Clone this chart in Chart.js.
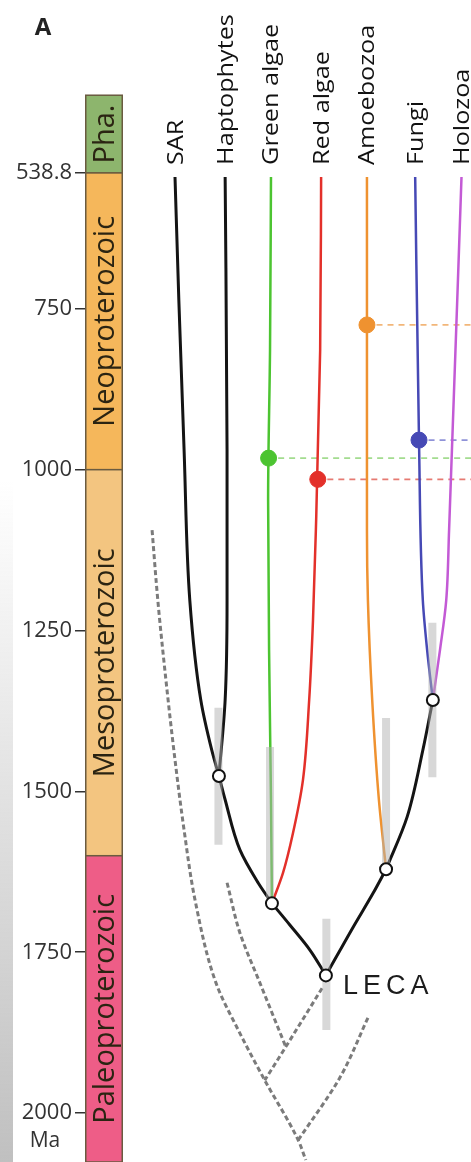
<!DOCTYPE html>
<html><head><meta charset="utf-8">
<script src="https://cdn.jsdelivr.net/npm/chart.js@4.4.1/dist/chart.umd.min.js"></script>
<style>html,body{margin:0;padding:0;background:#fff;overflow:hidden}#wrap{width:471px;height:1162px;position:relative}</style>
</head><body><div id="wrap"><canvas id="c" width="471" height="1162"></canvas></div>
<script>
// ---- data (x = lineage slot, y = age in Ma) ----
const taxa = ['SAR','Haptophytes','Green algae','Red algae','Amoebozoa','Fungi','Holozoa'];
const taxaSlot = [0, 1.05, 2.01, 3.06, 4.02, 5.03, 6.0];
const tipAge = 545;
const yTicks = [538.8, 750, 1000, 1250, 1500, 1750, 2000];
const periodNames = ['Pha.','Neoproterozoic','Mesoproterozoic','Paleoproterozoic'];
const periodBounds = [418, 538.8, 1000, 1600, 2076];

const sarPath    = [[0,545],[0.08,736],[0.19,969],[0.31,1203],[0.54,1358],[0.77,1436],[0.92,1476]];
const haptoPath  = [[1.05,545],[1.09,969],[1.09,1203],[1.05,1358],[0.92,1476]];
const greenPath  = [[2.01,545],[1.99,814],[1.95,1047],[1.97,1280],[2.01,1513],[2.03,1674]];
const redPath    = [[3.06,545],[3.04,814],[2.95,1094],[2.89,1234],[2.81,1358],[2.68,1482],[2.47,1565],[2.26,1627],[2.03,1674]];
const orangePath = [[4.02,545],[4.02,1094],[4.04,1203],[4.13,1358],[4.27,1513],[4.42,1621]];
const bluePath   = [[5.03,545],[5.11,954],[5.19,1203],[5.28,1280],[5.40,1358]];
const purplePath = [[6.0,545],[5.74,1094],[5.68,1203],[5.55,1280],[5.40,1358]];

const grToHapto   = [[0.92,1476],[1.05,1513],[1.36,1591],[1.74,1642],[2.03,1674]];
const lecaToGr    = [[2.03,1674],[2.41,1708],[2.83,1747],[3.16,1786]];
const lecaToAmoeb = [[4.42,1621],[4.15,1658],[3.73,1711],[3.16,1786]];
const amoebToFH   = [[5.40,1358],[5.19,1436],[4.86,1540],[4.42,1621]];

const stemLong  = [[-0.48,1094],[-0.36,1203],[-0.19,1327],[0,1451],[0.19,1560],[0.42,1669],[0.86,1798],[1.36,1876],[1.88,1949],[2.58,2042],[2.74,2073]];
const stemMid   = [[1.09,1642],[1.36,1720],[1.78,1798],[2.32,1897]];
const stemLeca  = [[3.08,1806],[2.32,1897],[1.88,1949]];
const stemRight = [[4.04,1852],[3.46,1944],[2.58,2042]];

const nodes = [[0.92,1476],[2.03,1674],[4.42,1621],[5.40,1358],[3.16,1786]];
const leca = [3.16,1786];
// fossil calibration dots: [slot, age]
const fossilOrange = [4.02,775];
const fossilBlue   = [5.11,954];
const fossilGreen  = [1.96,982];
const fossilRed    = [2.99,1015];
// node age ranges: [slot, youngest, oldest]
const ranges = [[0.91,1370,1583],[1.99,1431,1680],[4.42,1386,1621],[5.39,1238,1478],[3.17,1698,1871]];

const X_MIN = -1.885, X_MAX = 6.199;

// ---- build ----
const pts = a => a.map(([x,y]) => ({x, y}));
const C = {black:'#141414', green:'#4cc431', red:'#e3302a', orange:'#ef9230', blue:'#4649b5', purple:'#c35ad5'};
const line = (arr, color, w, order, extra) => Object.assign({
  data: pts(arr), showLine: true, borderColor: color, borderWidth: w, indexAxis: 'y',
  pointRadius: 0, pointHoverRadius: 0, cubicInterpolationMode: 'monotone', order, clip: false, fill: false
}, extra || {});

const datasets = [];
datasets.push({data: pts(nodes), showLine:false, pointRadius:6, pointHoverRadius:6, pointBorderWidth:2,
  pointBackgroundColor:'#fff', pointBorderColor:'#111', order:0, clip:false});
const fossils = [fossilOrange, fossilBlue, fossilGreen, fossilRed];
const fossilColors = [C.orange, C.blue, C.green, C.red];
datasets.push({data: pts(fossils), showLine:false, pointRadius:8, pointHoverRadius:8, pointBorderWidth:1,
  pointBackgroundColor: fossilColors, pointBorderColor: fossilColors, order:0, clip:false});
ranges.forEach(r => datasets.push(line([[r[0],r[1]],[r[0],r[2]]], 'rgba(178,178,178,0.5)', 8, 1, {borderCapStyle:'butt', cubicInterpolationMode:'default', tension:0})));
[[sarPath,C.black,3],[haptoPath,C.black,3],[greenPath,C.green,2.5],[redPath,C.red,2.5],
 [orangePath,C.orange,2.5],[bluePath,C.blue,2.5],[purplePath,C.purple,2.5],
 [grToHapto,C.black,3],[lecaToGr,C.black,3],[lecaToAmoeb,C.black,3],[amoebToFH,C.black,3]]
 .forEach(([p,c,w]) => datasets.push(line(p,c,w,2)));
const dashColors = ['#f2b679','#8f92d8','#a3dc8f','#e67a72'];
fossils.forEach((f,i) => datasets.push(line([[f[0]+0.2,f[1]],[X_MAX,f[1]]], dashColors[i], 1.8, 3, {borderDash:[6,5], indexAxis:'x', cubicInterpolationMode:'default', tension:0})));
[stemLong, stemMid, stemLeca, stemRight].forEach(p => datasets.push(line(p,'#7b7b7b',3,3,{borderDash:[5,3]})));

const deco = {
  id: 'deco',
  beforeDraw(chart) {
    const {ctx} = chart;
    ctx.save();
    const g = ctx.createLinearGradient(0,480,0,1162);
    g.addColorStop(0,'rgba(150,150,150,0)');
    g.addColorStop(1,'rgba(150,150,150,0.6)');
    ctx.fillStyle = g;
    ctx.fillRect(0,480,13,682);
    ctx.restore();
  },
  beforeDatasetsDraw(chart) {
    const {ctx, chartArea, scales:{x:xs, y:ys}} = chart;
    const left = chartArea.left, w = 38;
    const fills = ['#8db56d','#f5b75b','#f3c580','#ee5d87'];
    ctx.save();
    for (let i = 0; i < periodNames.length; i++) {
      const y0 = ys.getPixelForValue(periodBounds[i]);
      const y1 = ys.getPixelForValue(periodBounds[i+1]);
      ctx.fillStyle = fills[i];
      ctx.fillRect(left, y0, w, y1 - y0);
      ctx.strokeStyle = '#6a5b40';
      ctx.lineWidth = 1.5;
      ctx.strokeRect(left + 0.75, y0, w - 1.5, y1 - y0);
      ctx.save();
      ctx.translate(left + w/2, (y0 + y1)/2);
      ctx.rotate(-Math.PI/2);
      ctx.font = '29px "Open Sans"';
      ctx.fillStyle = '#2b2412';
      ctx.textAlign = 'center';
      ctx.textBaseline = 'alphabetic';
      ctx.fillText(periodNames[i], 0, 10);
      ctx.restore();
    }
    ctx.font = '21px "Open Sans"';
    ctx.fillStyle = '#111';
    taxa.forEach((t,i) => {
      const x = xs.getPixelForValue(taxaSlot[i]);
      const y = ys.getPixelForValue(tipAge) - 12;
      ctx.save();
      ctx.translate(x, y);
      ctx.rotate(-Math.PI/2);
      ctx.scale(1.2, 1);
      ctx.textAlign = 'left';
      ctx.textBaseline = 'alphabetic';
      ctx.fillText(t, 0, 7.5);
      ctx.restore();
    });
    ctx.restore();
  },
  afterDatasetsDraw(chart) {
    const {ctx, scales:{x:xs, y:ys}} = chart;
    ctx.save();
    ctx.fillStyle = '#1c1c1c';
    ctx.font = '27px "Liberation Sans"';
    ctx.letterSpacing = '5px';
    ctx.textBaseline = 'middle';
    ctx.textAlign = 'left';
    ctx.fillText('LECA', xs.getPixelForValue(leca[0]) + 17, ys.getPixelForValue(leca[1]) + 11);
    ctx.letterSpacing = '0px';
    ctx.font = 'bold 24px "Open Sans"';
    ctx.fillStyle = '#222';
    ctx.textAlign = 'center';
    ctx.fillText('A', 43, 28);
    ctx.font = '21px "Open Sans"';
    ctx.fillStyle = '#333';
    ctx.fillText('Ma', 45, ys.getPixelForValue(2000) + 28);
    ctx.restore();
  }
};

new Chart(document.getElementById('c'), {
  type: 'scatter',
  data: { datasets },
  options: {
    responsive: false,
    animation: false,
    events: [],
    layout: { padding: 0, autoPadding: false },
    plugins: { legend: {display:false}, tooltip: {enabled:false} },
    scales: {
      x: { type:'linear', min: X_MIN, max: X_MAX, display: false },
      y: {
        type:'linear', reverse: true, min: 270, max: 2076, position:'left',
        afterBuildTicks: s => { s.ticks = yTicks.map(v => ({value: v})); },
        afterFit: s => { s.width = 85; s.paddingTop = 0; s.paddingBottom = 0; },
        ticks: { autoSkip:false, padding: 3, color:'#333', font:{family:'"Open Sans"', size:22},
                 callback: v => String(v) },
        grid: { drawOnChartArea:false, drawTicks:true, tickLength:10, color:'#333', lineWidth:1.5 },
        border: { display:false }
      }
    }
  },
  plugins: [deco]
});
</script>
</body></html>
